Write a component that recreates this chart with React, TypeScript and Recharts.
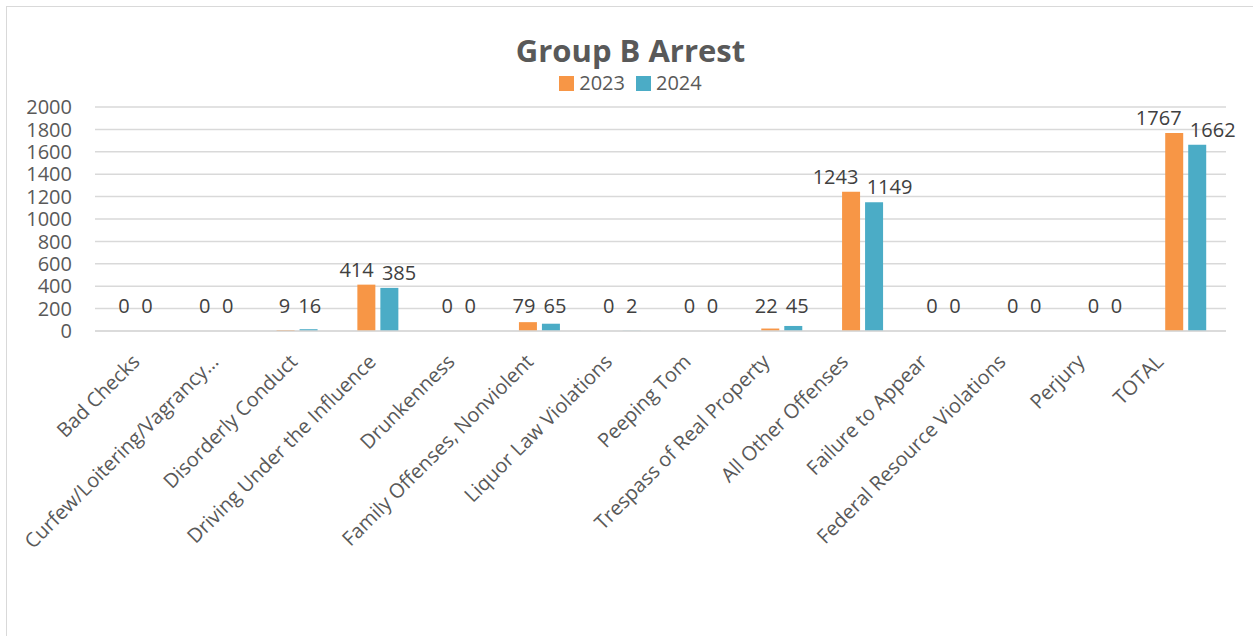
import React from 'react';
import { BarChart, Bar, XAxis, YAxis, CartesianGrid, LabelList } from 'recharts';

const categories = [
  'Bad Checks',
  'Curfew/Loitering/Vagrancy…',
  'Disorderly Conduct',
  'Driving Under the Influence',
  'Drunkenness',
  'Family Offenses, Nonviolent',
  'Liquor Law Violations',
  'Peeping Tom',
  'Trespass of Real Property',
  'All Other Offenses',
  'Failure to Appear',
  'Federal Resource Violations',
  'Perjury',
  'TOTAL',
];
const arrests2023 = [0, 0, 9, 414, 0, 79, 0, 0, 22, 1243, 0, 0, 0, 1767];
const arrests2024 = [0, 0, 16, 385, 0, 65, 2, 0, 45, 1149, 0, 0, 0, 1662];
const yTicks = [0, 200, 400, 600, 800, 1000, 1200, 1400, 1600, 1800, 2000];

const ORANGE = '#F79646';
const TEAL = '#4BACC6';
const FONT = '"Open Sans", sans-serif';
const GRAY = '#595959';

const data = categories.map((name, i) => ({
  name,
  y2023: arrests2023[i],
  y2024: arrests2024[i],
}));

// rough text width of a number label, used to push neighbouring labels apart like Excel does
const labelWidth = (v: number) => String(v).length * 11.5;

const makeLabel = (series: 0 | 1) => (props: any) => {
  const { x, y, width, height, index } = props;
  const v1 = arrests2023[index];
  const v2 = arrests2024[index];
  const value = series === 0 ? v1 : v2;
  const zeroY = y + height;
  const baseY = Math.min(y - 8, zeroY - 18);
  const barDist = width + 5;
  const need = labelWidth(v1) / 2 + labelWidth(v2) / 2 + 8;
  const push = need > barDist ? (need - barDist) / 2 : 0;
  const cx = x + width / 2 + (series === 0 ? -push : push);
  return (
    <text x={cx} y={baseY} textAnchor="middle" fill="#404040" fontSize={20} fontFamily={FONT}>
      {value}
    </text>
  );
};

const Label2023 = makeLabel(0);
const Label2024 = makeLabel(1);

const CategoryTick = (props: any) => {
  const { x, y, payload } = props;
  const i = payload.index ?? 0;
  const tx = x + 5.6 - 2.05 * i;
  const ty = y + 32;
  return (
    <text
      x={tx}
      y={ty}
      textAnchor="end"
      fill={GRAY}
      fontSize={20}
      fontFamily={FONT}
      transform={`rotate(-45, ${tx}, ${ty})`}
    >
      {payload.value}
    </text>
  );
};

// keeps zero bars in the layout (invisible sliver) so their "0" labels are drawn
const tinyForZero = (v: number) => (v === 0 ? 0.01 : 0);

export default function App() {
  return (
    <div style={{ position: 'absolute', left: 0, top: 0, width: 1253, height: 636, background: '#fff', overflow: 'hidden', fontFamily: FONT }}>
      {/* chart frame */}
      <div style={{ position: 'absolute', left: 6, top: 6, width: 1300, height: 700, border: '1px solid #D9D9D9' }} />

      <div style={{ position: 'absolute', left: 0, width: 1261, top: 29, textAlign: 'center', fontSize: 31, fontWeight: 700, color: GRAY, lineHeight: '42px' }}>
        Group B Arrest
      </div>

      <div style={{ position: 'absolute', left: 0, width: 1261, top: 69, display: 'flex', justifyContent: 'center', alignItems: 'center', fontSize: 20, color: GRAY, lineHeight: '28px' }}>
        <span style={{ display: 'inline-block', width: 15, height: 15, background: ORANGE, marginRight: 5 }} />
        <span style={{ marginRight: 11 }}>2023</span>
        <span style={{ display: 'inline-block', width: 15, height: 15, background: TEAL, marginRight: 5 }} />
        <span>2024</span>
      </div>

      <div style={{ position: 'absolute', left: 0, top: 0 }}>
        <BarChart
          width={1253}
          height={636}
          data={data}
          margin={{ top: 107, right: 27, left: 15, bottom: 275 }}
          barGap={5}
        >
          <CartesianGrid vertical={false} stroke="#D9D9D9" strokeWidth={1.5} />
          <XAxis
            dataKey="name"
            height={30}
            interval={0}
            tickLine={false}
            tickSize={0}
            tickMargin={0}
            axisLine={{ stroke: '#D9D9D9', strokeWidth: 1.5 }}
            tick={<CategoryTick />}
          />
          <YAxis
            width={80}
            domain={[0, 2000]}
            ticks={yTicks}
            interval={0}
            axisLine={false}
            tickLine={false}
            tickSize={0}
            tickMargin={23}
            tick={{ fill: GRAY, fontSize: 20, fontFamily: FONT }}
          />
          <Bar dataKey="y2023" fill={ORANGE} barSize={18} minPointSize={tinyForZero} isAnimationActive={false}>
            <LabelList dataKey="y2023" content={<Label2023 />} />
          </Bar>
          <Bar dataKey="y2024" fill={TEAL} barSize={18} minPointSize={tinyForZero} isAnimationActive={false}>
            <LabelList dataKey="y2024" content={<Label2024 />} />
          </Bar>
        </BarChart>
      </div>
    </div>
  );
}
